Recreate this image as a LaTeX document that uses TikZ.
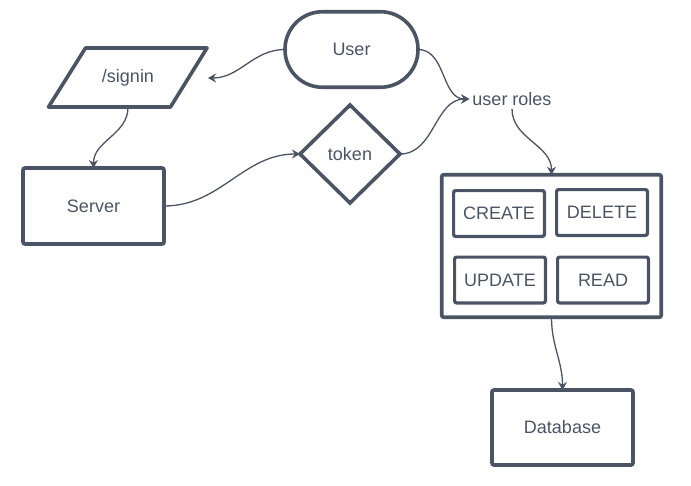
\documentclass[tikz,border=0pt]{standalone}
\usepackage{fontspec}
\setmainfont{Liberation Sans}
\usetikzlibrary{arrows.meta,shapes.geometric}
\definecolor{ink}{RGB}{74,84,100}
\begin{document}
\begin{tikzpicture}[x=1pt,y=1pt,
  font=\fontsize{18}{22}\selectfont, text=ink,
  box/.style={draw=ink, line width=3.6pt, rounded corners=2pt, inner sep=0pt, outer sep=0pt},
  inbox/.style={box, line width=3.2pt, minimum width=90.8, minimum height=45.8},
  conn/.style={draw=ink, line width=1.3pt, -{Stealth[length=8pt,width=9pt]}}]
\useasboundingbox (0,0) rectangle (691,-485);
% nodes
\node[box, rounded corners=37.5pt, minimum width=133, minimum height=75.5] (user) at (351.5,-49.5) {User};
\draw[draw=ink, line width=3.6pt, line join=round] (85.5,-48) -- (207,-48) -- (170.5,-107) -- (48.5,-107) -- cycle;
\node[inner sep=0pt, minimum width=120, minimum height=59] (signin) at (128,-77.5) {/signin};
\coordinate (signinIn) at (208,-78);
\node[box, minimum width=141, minimum height=76] (server) at (93.5,-206) {Server};
\node[draw=ink, line width=3.6pt, diamond, inner sep=0pt, outer sep=0pt, minimum width=100, minimum height=98] (token) at (350,-154) {token};
\node[inner sep=3pt] (roles) at (512,-99) {user roles};
\node[box, minimum width=219.5, minimum height=142.5] (container) at (551.5,-246) {};
\node[inbox] (create) at (499,-213.5) {CREATE};
\node[inbox] (delete) at (602,-212.5) {DELETE};
\node[inbox] (update) at (500,-280) {UPDATE};
\node[inbox] (read) at (603,-280) {READ};
\node[box, minimum width=141, minimum height=75] (db) at (562.5,-427.5) {Database};
% connectors
\draw[conn] (user.west) to[out=180,in=0] (signinIn);
\draw[conn] (signin.south) to[out=-90,in=90] (server.north);
\draw[conn] (server.east) to[out=0,in=180] (token.west);
\draw[conn] (user.east) to[out=0,in=180] (roles.west);
\draw[conn] (token.east) to[out=0,in=180] (roles.west);
\draw[conn] (roles.south) to[out=-90,in=90] (container.north);
\draw[conn] (container.south) to[out=-90,in=90] (db.north);
\end{tikzpicture}
\end{document}
